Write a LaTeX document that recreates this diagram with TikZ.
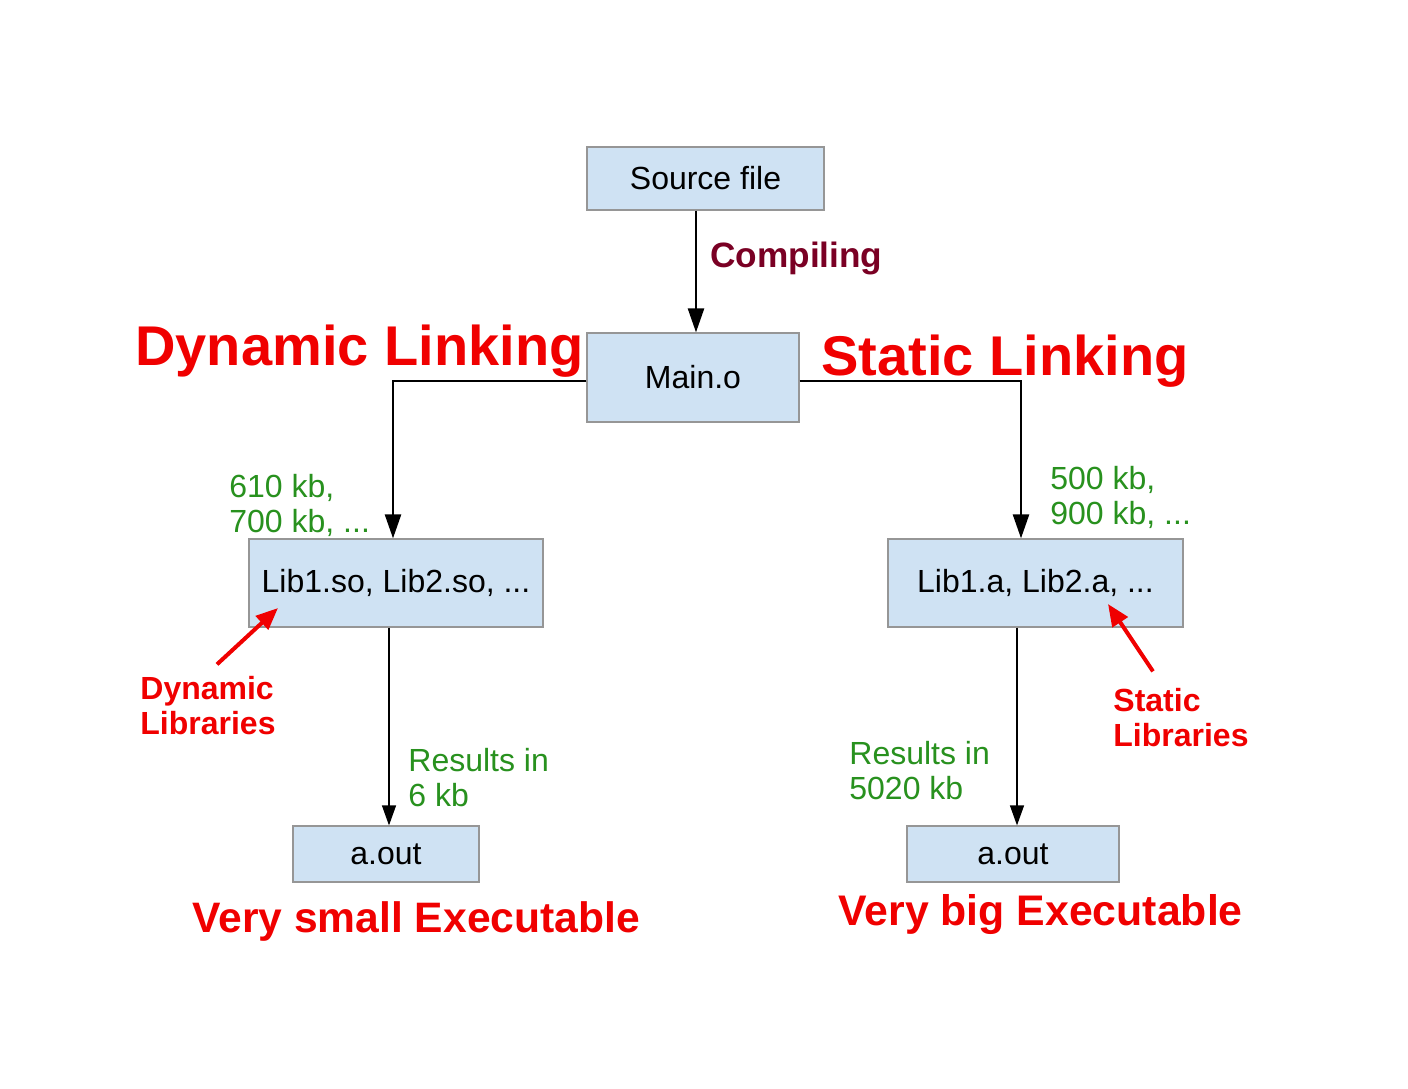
\documentclass[tikz,border=0pt]{standalone}
\usepackage{fontspec}
\setmainfont{Liberation Sans}
\usetikzlibrary{arrows.meta,positioning}

\definecolor{boxfill}{RGB}{207,226,243}
\definecolor{boxline}{RGB}{150,150,150}
\definecolor{sizegreen}{RGB}{40,145,30}
\definecolor{compred}{RGB}{122,0,36}
\definecolor{titlered}{RGB}{240,0,0}

\begin{document}
\begin{tikzpicture}[x=0.5pt, y=-0.5pt]
		\tikzstyle{Box} 	= [rectangle, draw=boxline, line width=0.6pt, fill=boxfill, inner sep=0pt, font=\fontsize{16}{17.5}\selectfont]
		\tikzstyle{Size}	= [anchor=west, align=left, inner sep=0pt, text=sizegreen, font=\fontsize{16}{17.5}\selectfont]
		\tikzstyle{Note}	= [anchor=west, align=left, inner sep=0pt, text=titlered, font=\fontsize{16}{17.5}\bfseries\selectfont]
		\tikzstyle{Title}	= [anchor=base west, inner sep=0pt, text=titlered]
		\tikzstyle{Flow}	= [line width=1.2pt, -{Triangle[length=12pt, width=8pt]}]
		\tikzstyle{Thin}	= [line width=0.6pt, -{Triangle[length=10pt, width=7pt]}]
		\tikzstyle{Pointer}	= [line width=2pt, titlered, -{Triangle[length=11pt, width=9pt]}]

		\useasboundingbox [fill=white] (0,0) rectangle (1408,1088);

		% boxes
		\node (src)   at (705.5, 178.5) [Box, minimum width=118.5pt, minimum height=31.5pt] {Source file};
		\node (main)  at (693.0, 377.5) [Box, minimum width=106pt, minimum height=44.5pt] {Main.o};
		\node (libso) at (396.0, 583.0) [Box, minimum width=147pt, minimum height=44pt] {Lib1.so, Lib2.so, ...};
		\node (liba)  at (1035.5, 583.0) [Box, minimum width=147.5pt, minimum height=44pt] {Lib1.a, Lib2.a, ...};
		\node (aoutl) at (386.0, 854.0) [Box, minimum width=93pt, minimum height=28pt] {a.out};
		\node (aoutr) at (1013.0, 854.0) [Box, minimum width=106pt, minimum height=28pt] {a.out};

		% labels
		\node (comp) at (710, 267) [anchor=base west, inner sep=0pt, text=compred, font=\fontsize{17.6}{19}\bfseries\selectfont] {Compiling};
		\node (dyn)  at (135, 365) [Title, font=\fontsize{28}{30}\bfseries\selectfont] {Dynamic Linking};
		\node (sta)  at (821, 375) [Title, font=\fontsize{28}{30}\bfseries\selectfont] {Static Linking};
		\node (small) at (192, 932) [Title, font=\fontsize{21.3}{23}\bfseries\selectfont] {Very small Executable};
		\node (big)   at (838, 925) [Title, font=\fontsize{21.4}{23}\bfseries\selectfont] {Very big Executable};

		\node (sizeso) at (229, 505.5) [Size] {610 kb,\\700 kb, ...};
		\node (sizea)  at (1050, 497.5) [Size] {500 kb,\\900 kb, ...};
		\node (resso)  at (408, 778) [Size] {Results in\\6 kb};
		\node (resa)   at (849, 771) [Size] {Results in\\5020 kb};
		\node (dynlib) at (140, 706) [Note] {Dynamic\\Libraries};
		\node (stalib) at (1113, 718) [Note] {Static\\Libraries};

		% turning points
		\coordinate (cc) at (696, 0);
		\coordinate (jl) at (393, 381);
		\coordinate (jr) at (1021, 381);
		\coordinate (dl) at (389, 0);
		\coordinate (dr) at (1017, 0);
		\coordinate (dltip) at (278, 608);
		\coordinate (sltip) at (1108, 604);

		\draw (src.south -| cc) -- (main.north -| cc) [Flow];
		\draw (main.west |- jl) -- (jl) -- (libso.north -| jl) [Flow];
		\draw (main.east |- jr) -- (jr) -- (liba.north -| jr) [Flow];
		\draw (libso.south -| dl) -- (aoutl.north -| dl) [Thin];
		\draw (liba.south -| dr) -- (aoutr.north -| dr) [Thin];

		\draw ([xshift=4.5pt, yshift=6pt]dynlib.north) -- (dltip) [Pointer];
		\draw ([xshift=-14pt, yshift=8.5pt]stalib.north) -- (sltip) [Pointer];
	\end{tikzpicture}
\end{document}
